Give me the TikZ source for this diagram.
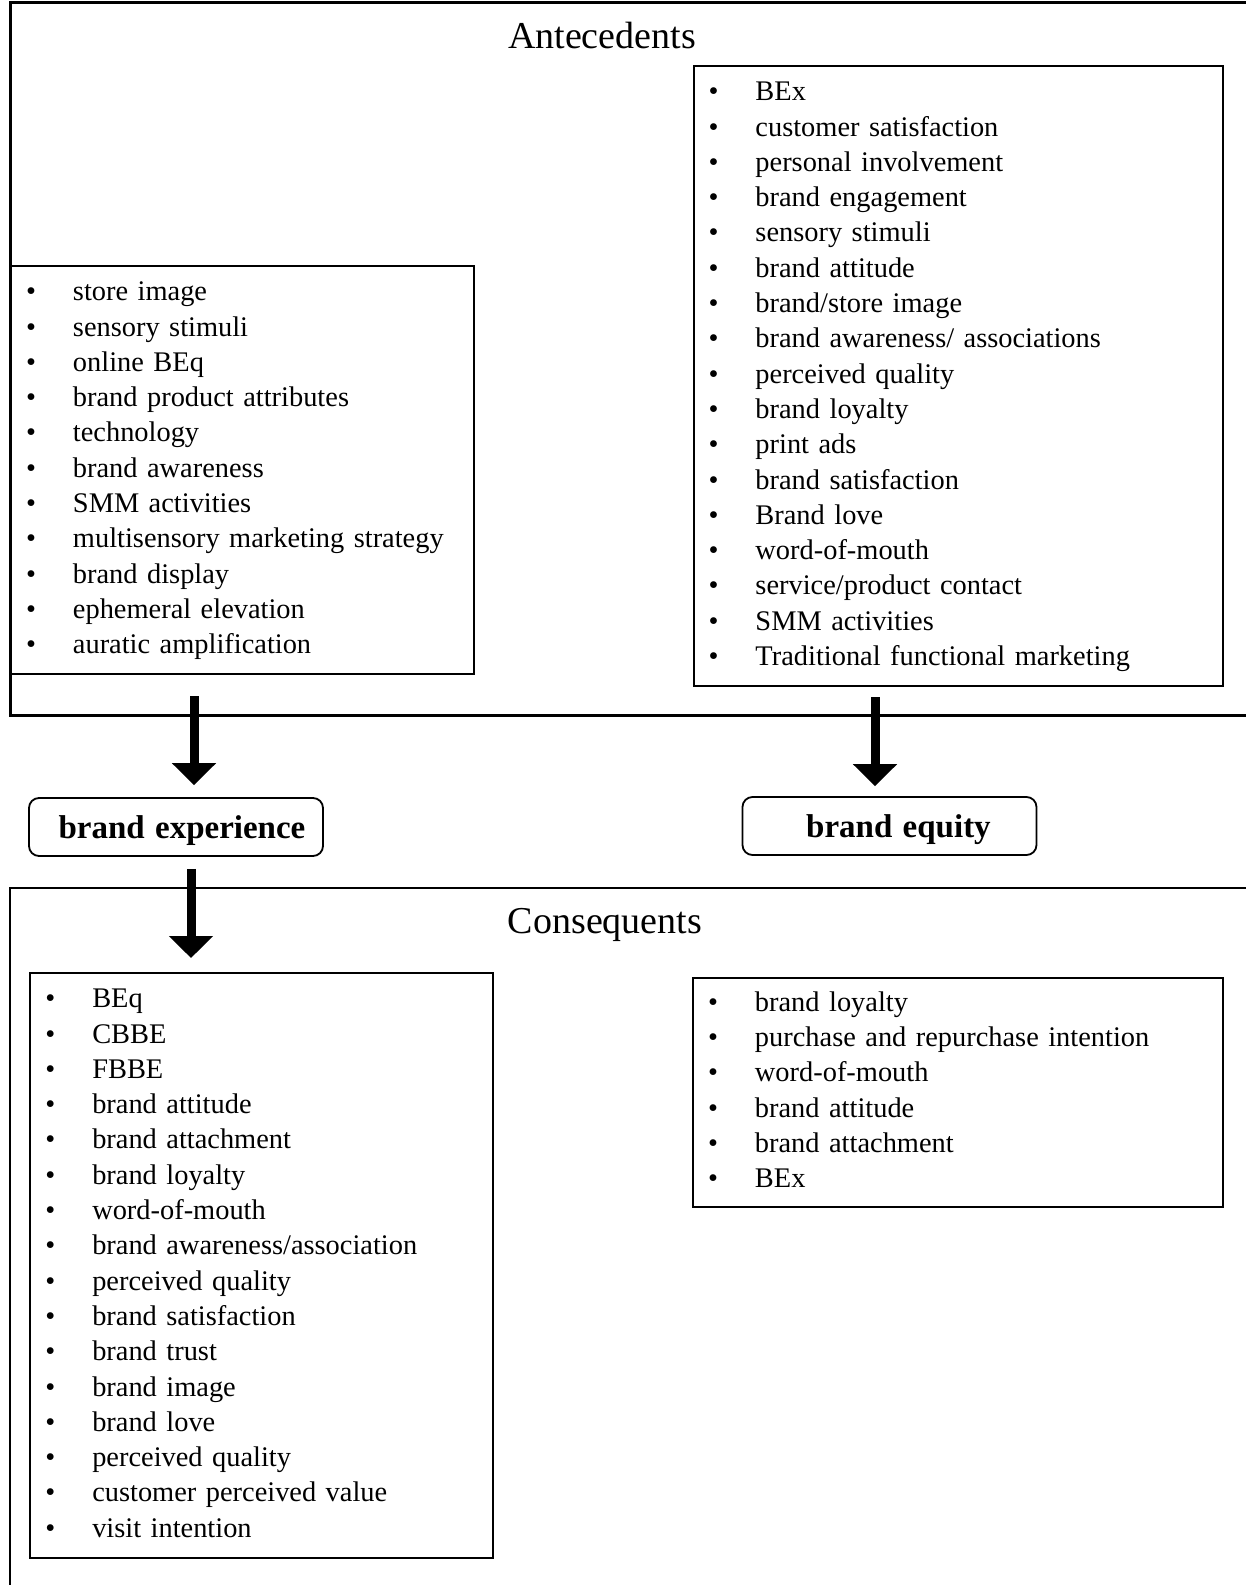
\documentclass[tikz,border=0pt]{standalone}
\usepackage{fontspec}
\setmainfont{Liberation Serif}[WordSpace=1.25]
\usetikzlibrary{arrows.meta}

\begin{document}
\begin{tikzpicture}[x=0.5pt, y=-0.5pt,
  listbox/.style={draw, line width=1pt, anchor=north west, inner xsep=7.5pt, inner ysep=5pt, align=left, font=\fontsize{14.2}{17.65}\selectfont},
  keybox/.style={draw, rounded corners=5pt, line width=0.9pt, minimum width=147pt, minimum height=29pt, text depth=0pt, font=\fontsize{16.5}{20}\selectfont\bfseries},
  head/.style={anchor=base, font=\fontsize{19}{23}\selectfont},
  bigarrow/.style={-{Triangle[width=21.5pt,length=11pt]}, line width=4.5pt}]
\useasboundingbox (0,0) rectangle (1246,1585);
% the two frames run off the right edge
\draw[line width=1.5pt] (1246,2) -- (10,2) -- (10,715) -- (1246,715);
\draw[line width=1.2pt] (1246,888) -- (10,888) -- (10,1585);
\node[head] (ante) at (602,48) {Antecedents};
\node[head] (cons) at (605,933) {Consequents};
% antecedents
\node[listbox, text width=216.5pt] (antexp) at (10,265) {\begin{tabular}{@{}p{23.5pt}@{}l@{}}
\textbullet & store image\\
\textbullet & sensory stimuli\\
\textbullet & online BEq\\
\textbullet & brand product attributes\\
\textbullet & technology\\
\textbullet & brand awareness\\
\textbullet & SMM activities\\
\textbullet & multisensory marketing strategy\\
\textbullet & brand display\\
\textbullet & ephemeral elevation\\
\textbullet & auratic amplification
\end{tabular}};
\node[listbox, text width=249.7pt] (anteq) at (692.5,65) {\begin{tabular}{@{}p{23.5pt}@{}l@{}}
\textbullet & BEx\\
\textbullet & customer satisfaction\\
\textbullet & personal involvement\\
\textbullet & brand engagement\\
\textbullet & sensory stimuli\\
\textbullet & brand attitude\\
\textbullet & brand/store image\\
\textbullet & brand awareness/ associations\\
\textbullet & perceived quality\\
\textbullet & brand loyalty\\
\textbullet & print ads\\
\textbullet & brand satisfaction\\
\textbullet & Brand love\\
\textbullet & word-of-mouth\\
\textbullet & service/product contact\\
\textbullet & SMM activities\\
\textbullet & Traditional functional marketing
\end{tabular}};
% the two constructs
\node[keybox] (bexp) at (176,827) {\hspace*{6pt}brand experience};
\node[keybox] (beq) at (889.5,826) {\hspace*{9pt}brand equity};
\coordinate (a1) at (194,696);
\coordinate (a2) at (875,697);
\coordinate (a3) at (191,958);
\draw[bigarrow, shorten >=6pt] (a1) -- (a1 |- bexp.north);
\draw[bigarrow, shorten >=5pt] (a2) -- (a2 |- beq.north);
\draw[bigarrow, shorten <=6pt] (bexp.south -| a3) -- (a3);
% consequents
\node[listbox, text width=216.3pt] (consexp) at (29.3,972) {\begin{tabular}{@{}p{23.5pt}@{}l@{}}
\textbullet & BEq\\
\textbullet & CBBE\\
\textbullet & FBBE\\
\textbullet & brand attitude\\
\textbullet & brand attachment\\
\textbullet & brand loyalty\\
\textbullet & word-of-mouth\\
\textbullet & brand awareness/association\\
\textbullet & perceived quality\\
\textbullet & brand satisfaction\\
\textbullet & brand trust\\
\textbullet & brand image\\
\textbullet & brand love\\
\textbullet & perceived quality\\
\textbullet & customer perceived value\\
\textbullet & visit intention
\end{tabular}};
\node[listbox, text width=250pt, inner ysep=4.5pt] (conseq) at (692,976.5) {\begin{tabular}{@{}p{23.5pt}@{}l@{}}
\textbullet & brand loyalty\\
\textbullet & purchase and repurchase intention\\
\textbullet & word-of-mouth\\
\textbullet & brand attitude\\
\textbullet & brand attachment\\
\textbullet & BEx
\end{tabular}};
\end{tikzpicture}
\end{document}
